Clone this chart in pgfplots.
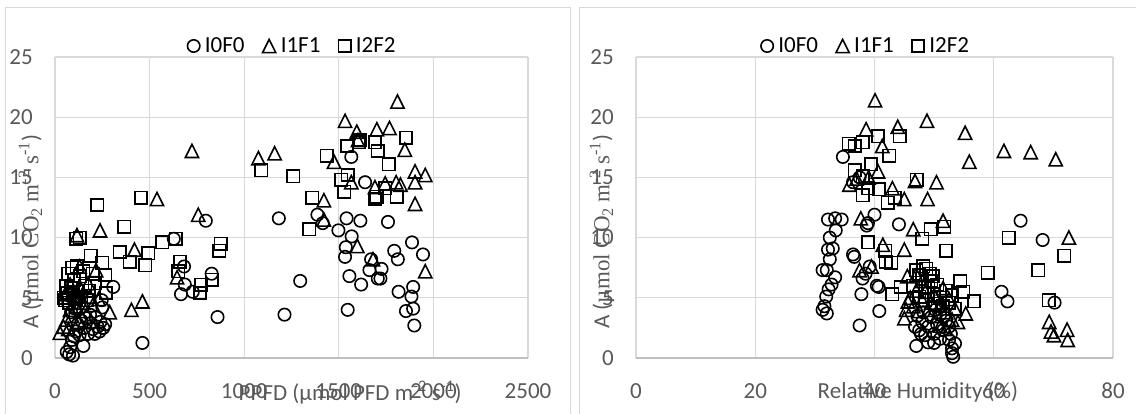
\documentclass[border=0pt]{standalone}
\usepackage{pgfplots}
\pgfplotsset{compat=1.18}
\usepackage{fontspec}
\setmainfont{Carlito}
\newfontfamily\seriffont{Liberation Serif}
\definecolor{gridc}{HTML}{D9D9D9}
\definecolor{txt}{HTML}{595959}
\definecolor{axc}{HTML}{BFBFBF}
\pgfdeclareplotmark{xtri}{%
  \pgfpathmoveto{\pgfqpoint{0pt}{\pgfplotmarksize}}%
  \pgfpathlineto{\pgfqpoint{-\pgfplotmarksize}{-\pgfplotmarksize}}%
  \pgfpathlineto{\pgfqpoint{\pgfplotmarksize}{-\pgfplotmarksize}}%
  \pgfpathclose\pgfusepathqstroke}
\newcommand{\bigf}{\fontsize{23}{27}\selectfont}
\pgfplotsset{
  panel/.style={
    scale only axis, height=301pt, anchor=south west, clip=false,
    ymin=0, ymax=25, ytick={0,5,...,25},
    grid=major, major grid style={gridc, line width=1.3pt},
    axis line style={draw=none},
    tick style={draw=none},
    /pgf/number format/assume math mode=true,
    /pgf/number format/1000 sep={},
    ticklabel style={font=\bigf, text=txt},
    yticklabel style={anchor=east, inner sep=0pt, xshift=-22pt},
    xticklabel style={anchor=north, inner sep=0pt, yshift=-25pt},
    label style={font=\bigf, text=txt, inner sep=0pt},
    legend columns=3,
    legend style={draw=none, fill=none, font=\bigf, text=black,
      inner sep=0pt, anchor=center,
      nodes={inner sep=0pt},
      /tikz/every odd column/.append style={column sep=5pt},
      /tikz/every even column/.append style={column sep=18pt}},
    legend image code/.code={\draw[mark repeat=2,mark phase=2,#1] plot coordinates {(0pt,0pt) (8pt,0pt) (16pt,0pt)};},
  },
  s0/.style={only marks, mark=o, mark size=6.2pt, black, line width=1.6pt},
  s1/.style={only marks, mark=xtri, mark size=6.6pt, black, line width=1.6pt},
  s2/.style={only marks, mark=square, mark size=6.2pt, black, line width=1.6pt},
}
\begin{document}
\begin{tikzpicture}
\useasboundingbox (0,0) rectangle (1136pt,414pt);
\draw[gridc, line width=1pt] (5pt,-5pt) rectangle (570pt,406pt);
\draw[gridc, line width=1pt] (579pt,-5pt) rectangle (1145pt,406pt);
% ---------- left panel ----------
\begin{axis}[panel, at={(55pt,56pt)}, width=473pt,
  xmin=0, xmax=2500, xtick={0,500,...,2500},
  legend style={at={(0.5,1)}, yshift=11pt},
  xlabel={PPFD (µmol PFD m\textsuperscript{-2} s\textsuperscript{-1})},
  xlabel style={at={(rel axis cs:0.624,0)}, anchor=north, yshift=-23pt},
  ylabel={A ({\seriffont µmol CO\textsubscript{2} m\textsuperscript{-2} s\textsuperscript{-1}})},
  ylabel style={at={(rel axis cs:0,0.42)}, anchor=center, yshift=24pt},
]
\draw[axc, line width=1.3pt] (rel axis cs:0,0) -- (rel axis cs:1,0);
\addplot[s0] coordinates {
(462,1.25)(859,3.4)(1213,3.6)(1296,6.4)(1183,11.6)(797,11.4)(628,9.9)(682,7.6)(666,5.3)(728,5.5)(686,6.1)(828,7.0)(308,5.9)(247,4.8)
(62,0.5)(75,0.3)(80,0.9)(95,0.2)(150,1.0)(90,1.5)(100,1.8)(110,2.2)(120,2.8)(130,1.9)(140,3.1)(155,2.5)(165,3.3)(175,2.0)(185,3.6)(190,2.9)(200,2.4)(210,2.0)(215,3.4)(225,2.6)(235,2.2)(240,3.0)(250,4.2)(255,2.5)(265,2.8)(70,4.5)(85,3.8)(105,4.1)(120,5.0)(95,5.5)
(1387,11.9)(1415,11.2)(1498,10.6)(1541,11.6)(1568,10.1)(1537,9.2)(1533,8.4)(1556,6.8)(1618,6.1)(1547,4.0)(1566,16.7)(1639,14.6)(1614,11.4)(1760,11.3)(1662,7.3)(1706,6.6)(1726,7.4)(1720,6.6)(1671,8.2)(1793,8.9)(1812,8.2)(1887,9.6)(1945,8.6)(1816,5.5)(1893,5.9)(1884,5.1)(1855,3.9)(1893,4.1)(1899,2.7)
};
\addlegendentry{I0F0}
\addplot[s1] coordinates {
(1810,21.3)(1533,19.7)(1595,18.8)(1701,19.0)(1768,19.1)(1601,18.1)(1849,17.3)(724,17.2)(1161,17.0)(1075,16.6)(1475,16.3)(1903,15.5)(1957,15.2)(1566,14.6)(1903,14.6)(1691,14.2)(1745,14.5)(1803,14.6)(1826,14.4)(1903,12.8)(1421,13.1)(539,13.2)(757,11.9)(1421,11.5)(1598,9.3)(1681,8.2)(1957,7.2)(645,6.7)(462,4.7)(404,4.0)(289,3.8)(420,9.0)
(26,2.1)(45,2.6)(60,3.2)(70,2.4)(80,4.0)(90,3.5)(100,5.0)(110,4.3)(125,3.0)(135,5.8)(150,4.6)(160,3.9)(175,6.2)(185,5.1)(200,4.4)(217,7.3)(238,10.6)(116,10.2)(130,7.6)(80,6.1)(230,4.9)(60,5.3)
};
\addlegendentry{I1F1}
\addplot[s2] coordinates {
(1855,18.3)(1543,17.6)(1614,18.1)(1605,17.9)(1691,17.9)(1706,17.2)(1437,16.8)(1764,16.1)(1090,15.6)(1260,15.1)(1514,14.8)(1547,15.2)(1529,13.8)(1360,13.3)(1691,13.2)(1700,13.4)(1807,13.4)(1745,14.1)(1344,10.7)(455,13.3)(223,12.7)(366,10.9)(112,9.9)(131,10.0)(568,9.6)(639,9.9)(343,8.8)(493,8.7)(395,8.0)(478,7.7)(876,9.5)(869,8.9)(189,8.5)(250,7.9)(266,6.9)(661,8.0)(651,7.2)(828,6.5)(772,6.1)(766,5.4)
(45,5.0)(55,4.8)(60,6.0)(65,5.4)(70,7.0)(75,4.6)(85,5.8)(90,7.5)(95,5.2)(100,6.5)(110,4.9)(115,7.6)(120,5.5)(130,6.8)(140,5.1)(150,7.2)(160,6.0)(170,4.8)(180,5.6)(200,7.0)(210,6.2)(270,5.4)
};
\addlegendentry{I2F2}
\end{axis}
% ---------- right panel ----------
\begin{axis}[panel, at={(636pt,56pt)}, width=477pt,
  xmin=0, xmax=80, xtick={0,20,...,80},
  legend style={at={(0.48,1)}, yshift=11pt},
  xlabel={Relative Humidity (\%)},
  xlabel style={at={(rel axis cs:0.591,0)}, anchor=north, yshift=-23pt},
  ylabel={A ({\seriffont µmol CO\textsubscript{2} m\textsuperscript{-2} s\textsuperscript{-1}})},
  ylabel style={at={(rel axis cs:0,0.42)}, anchor=center, yshift=34pt},
]
\draw[axc, line width=1.3pt] (rel axis cs:0,0) -- (rel axis cs:1,0);
\addplot[s0] coordinates {
(34.7,16.7)(36.4,14.6)(37.5,15.0)(38.9,11.2)(40.0,11.9)(44.1,11.1)(38.7,11.0)(64.5,11.4)(68.2,9.8)(70.2,4.6)(61.3,5.5)(62.3,4.7)
(32.2,11.5)(33.4,11.6)(34.5,11.5)(33.5,10.6)(32.5,10.0)(32.2,9.0)(33.0,9.1)(32.5,8.2)(31.3,7.3)(32.0,7.3)(33.4,6.7)(32.8,6.1)(32.3,5.7)(31.9,5.1)(31.3,4.0)(32.0,3.7)(31.6,4.3)
(36.6,8.4)(36.4,8.6)(37.8,5.3)(37.5,2.7)(40.8,3.9)(40.4,6.0)(40.7,5.9)(38.0,6.6)(39.2,7.6)(38.5,7.0)
(47,1.0)(50,1.25)(53,0.4)(53.2,0.1)(53,0.8)(52.5,1.5)(47.5,2.3)(48,3.0)(48.5,1.9)(49,2.6)(49.5,3.4)(50,2.0)(50.5,2.8)(51,3.6)(51.5,2.3)(52,3.1)(52.5,2.6)(51,1.6)(49,1.3)(47.8,2.0)(48.2,3.8)(50.2,4.0)(52.8,2.0)(53.5,1.2)(46.8,2.6)(47.2,3.5)
};
\addlegendentry{I0F0}
\addplot[s1] coordinates {
(40.1,21.4)(48.8,19.7)(43.9,19.2)(38.6,19.0)(55.2,18.7)(41.3,17.6)(61.7,17.2)(66.2,17.1)(70.4,16.5)(55.9,16.3)(40.6,15.5)(50.4,14.6)(46.8,14.7)(35.8,14.4)(37.0,14.9)(39.0,15.0)(43.0,14.1)(45.0,13.2)(48.9,13.2)(37.7,11.6)(51.5,11.4)(46.5,10.7)(72.6,10.0)(41.4,9.4)(45.0,9.0)(39.5,7.6)(37.5,7.3)
(69.3,3.0)(69.6,2.2)(70.1,1.9)(72.3,2.35)(72.4,1.5)(55.3,3.7)(45.0,3.3)(45.3,4.0)(45.6,4.7)(45.5,6.8)
(46,5.0)(46.5,4.3)(47,5.6)(47.5,3.9)(48,4.8)(48.5,5.5)(49,4.0)(49.5,4.6)(50,5.2)(50.5,3.5)(51,4.4)(51.5,5.8)(52,3.8)(52.5,4.9)(53,3.2)(53.5,4.1)(54,3.0)(51,2.7)(52,2.4)(48,6.4)(47,6.9)
};
\addlegendentry{I1F1}
\addplot[s2] coordinates {
(35.7,17.8)(36.7,17.6)(38.0,17.9)(40.6,18.4)(44.2,18.4)(42.5,16.8)(39.4,16.1)(36.7,15.6)(38.0,15.1)(47.1,14.8)(38.9,14.1)(40.7,14.0)(38.0,13.5)(43.4,13.3)(42.2,12.9)(49.4,10.7)(51.7,10.9)(48.0,9.9)(38.9,9.6)(52.0,8.9)(41.8,8.9)(41.9,8.0)(42.8,7.9)(62.5,10.0)(71.8,8.5)(67.5,7.3)(59.0,7.1)(69.2,4.8)(54.4,6.4)(54.9,5.5)(56.7,4.7)(43.0,5.3)(44.4,5.9)
(46.5,6.0)(47,7.3)(47.5,5.1)(48,6.6)(48.2,7.6)(48.5,4.8)(49,5.9)(49.3,7.0)(49.5,6.4)(50,5.3)(50.2,4.5)(50.5,6.1)(51,5.0)(51.5,4.3)(52,5.6)(52.5,4.6)(53,5.2)(53.5,4.1)(48.7,7.4)(49.8,6.8)(47.5,6.9)
};
\addlegendentry{I2F2}
\end{axis}
\end{tikzpicture}
\end{document}
